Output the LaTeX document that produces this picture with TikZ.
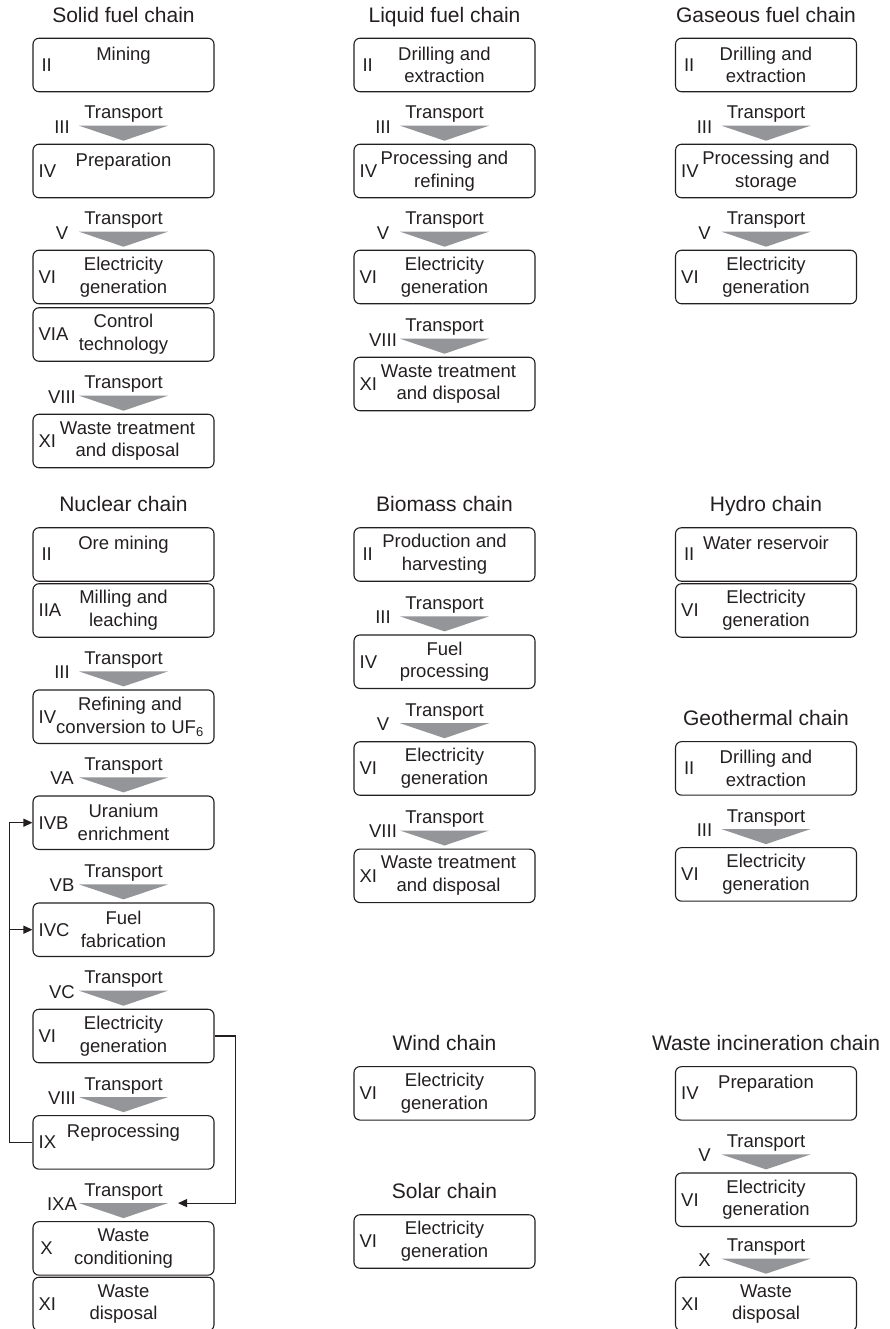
\documentclass[tikz,border=0pt]{standalone}
\usepackage{fontspec}
\setmainfont{Liberation Sans}
\usepackage{xcolor}
\usepackage{tikz}
\usetikzlibrary{positioning, arrows.meta, calc}
\definecolor{chink}{HTML}{231F20}
\definecolor{chgray}{HTML}{939598}

\begin{document}
\begin{tikzpicture}[
  x=1pt, y=-1pt,
  stage/.style={draw=chink, line width=1.1pt, rounded corners=6pt, minimum width=181pt, minimum height=53.5pt, align=center, inner sep=0pt, text=chink, font=\fontsize{18.5}{22.7}\selectfont},
  num/.style={inner sep=0pt, minimum width=16pt, text=chink, font=\fontsize{18.5}{22.7}\selectfont},
  ttl/.style={inner sep=0pt, anchor=base, text=chink, font=\fontsize{21}{25}\selectfont},
  lbl/.style={inner sep=0pt, text=chink, font=\fontsize{18.5}{22.7}\selectfont},
  tri/.style={fill=chgray},
  fb/.style={-{Triangle[length=9pt, width=8pt]}, line width=1.2pt, draw=chink}
]
  \useasboundingbox (0,0) rectangle (889,1329);

  % solid, liquid and gaseous fuel chains
  \node[stage] (mining) at (123.5, 65) {Mining\\\mbox{}};
  \node[stage] (prep) at (123.5, 171) {Preparation\\\mbox{}};
  \node[stage] (elec1) at (123.5, 277) {Electricity\\generation};
  \node[stage] (ctrl) at (123.5, 334.5) {Control\\technology};
  \node[stage] (waste1) at (123.5, 441) {\hspace*{8pt}Waste treatment\\\hspace*{8pt}and disposal};

  \node[stage] (drill2) at (444.5, 65) {Drilling and\\extraction};
  \node[stage] (proc2) at (444.5, 171) {Processing and\\refining};
  \node[stage] (elec2) at (444.5, 277) {Electricity\\generation};
  \node[stage] (waste2) at (444.5, 384) {\hspace*{8pt}Waste treatment\\\hspace*{8pt}and disposal};

  \node[stage] (drill3) at (766, 65) {Drilling and\\extraction};
  \node[stage] (proc3) at (766, 171) {Processing and\\storage};
  \node[stage] (elec3) at (766, 277) {Electricity\\generation};

  % nuclear chain
  \node[stage] (ore) at (123.5, 554.5) {Ore mining\\\mbox{}};
  \node[stage] (mill) at (123.5, 610.5) {Milling and\\leaching};
  \node[stage] (refine) at (123.5, 716.7) {\hspace*{13pt}Refining and\\\hspace*{13pt}conversion to UF\textsubscript{6}};
  \node[stage] (enrich) at (123.5, 822.7) {Uranium\\enrichment};
  \node[stage] (fab) at (123.5, 929.7) {Fuel\\fabrication};
  \node[stage] (elecn) at (123.5, 1036) {Electricity\\generation};
  \node[stage] (repro) at (123.5, 1142.4) {Reprocessing\\\mbox{}};
  \node[stage] (wcond) at (123.5, 1248.4) {Waste\\conditioning};
  \node[stage] (wdisp) at (123.5, 1304) {Waste\\disposal};

  % biomass, wind and solar chains
  \node[stage] (prod) at (444.5, 554.5) {Production and\\harvesting};
  \node[stage] (fuelp) at (444.5, 661.7) {Fuel\\processing};
  \node[stage] (elecb) at (444.5, 768.5) {Electricity\\generation};
  \node[stage] (wasteb) at (444.5, 875.8) {\hspace*{8pt}Waste treatment\\\hspace*{8pt}and disposal};
  \node[stage] (elecwd) at (444.5, 1093.3) {Electricity\\generation};
  \node[stage] (elecs) at (444.5, 1241.5) {Electricity\\generation};

  % hydro, geothermal and waste incineration chains
  \node[stage] (reserv) at (766, 554.5) {Water reservoir\\\mbox{}};
  \node[stage] (elech) at (766, 610.5) {Electricity\\generation};
  \node[stage] (drillg) at (766, 768.4) {Drilling and\\extraction};
  \node[stage] (elecg) at (766, 874.4) {Electricity\\generation};
  \node[stage] (prepw) at (766, 1093.4) {Preparation\\\mbox{}};
  \node[stage] (elecw) at (766, 1199.7) {Electricity\\generation};
  \node[stage] (dispw) at (766, 1304) {Waste\\disposal};

  % chain titles
  \node[ttl] (solid) at ([yshift=15.5pt]mining.north) {Solid fuel chain};
  \node[ttl] (liquid) at ([yshift=15.5pt]drill2.north) {Liquid fuel chain};
  \node[ttl] (gas) at ([yshift=15.5pt]drill3.north) {Gaseous fuel chain};
  \node[ttl] (nuclear) at ([yshift=15.5pt]ore.north) {Nuclear chain};
  \node[ttl] (biomass) at ([yshift=15.5pt]prod.north) {Biomass chain};
  \node[ttl] (hydro) at ([yshift=15.5pt]reserv.north) {Hydro chain};
  \node[ttl] (geo) at ([yshift=15.5pt]drillg.north) {Geothermal chain};
  \node[ttl] (wind) at ([yshift=15.5pt]elecwd.north) {Wind chain};
  \node[ttl] (solar) at ([yshift=15.5pt]elecs.north) {Solar chain};
  \node[ttl] (incin) at ([yshift=15.5pt]prepw.north) {Waste incineration chain};

  % stage numbers
  \foreach \b/\n in {mining/II, prep/IV, elec1/VI, ctrl/VIA, waste1/XI,
      drill2/II, proc2/IV, elec2/VI, waste2/XI, drill3/II, proc3/IV, elec3/VI,
      ore/II, mill/IIA, refine/IV, enrich/IVB, fab/IVC, elecn/VI, repro/IX, wcond/X, wdisp/XI,
      prod/II, fuelp/IV, elecb/VI, wasteb/XI, elecwd/VI, elecs/VI,
      reserv/II, elech/VI, drillg/II, elecg/VI, prepw/IV, elecw/VI, dispw/XI}
    \node[num, right=6pt of \b.west] (n-\b) {\n};

  % transport steps
  \foreach \b/\n in {prep/III, elec1/V, waste1/VIII, proc2/III, elec2/V, waste2/VIII,
      proc3/III, elec3/V, refine/III, enrich/VA, fab/VB, elecn/VC, repro/VIII, wcond/IXA,
      fuelp/III, elecb/V, wasteb/VIII, elecg/III, elecw/V, dispw/X} {
    \coordinate (tip-\b) at ([yshift=3pt]\b.north);
    \coordinate (top-\b) at ([yshift=18pt]\b.north);
    \fill[tri] (top-\b) ++(-44.5,0) -- ++(89,0) -- (tip-\b) -- cycle;
    \node[lbl, anchor=base] (tr-\b) at ([yshift=7pt]top-\b) {Transport};
    \node[lbl] (trn-\b) at ([xshift=-61.5pt, yshift=-1pt]top-\b) {\n};
  }

  % recycling loops of the nuclear chain
  \draw[fb] (repro.west) -- ++(-23,0) |- (enrich.west);
  \draw[fb] (repro.west) ++(-23,0) |- (fab.west);
  \coordinate (ret) at ([xshift=54.5pt]top-wcond);
  \draw[fb] (elecn.east) -- ++(21,0) |- (ret);
\end{tikzpicture}
\end{document}
